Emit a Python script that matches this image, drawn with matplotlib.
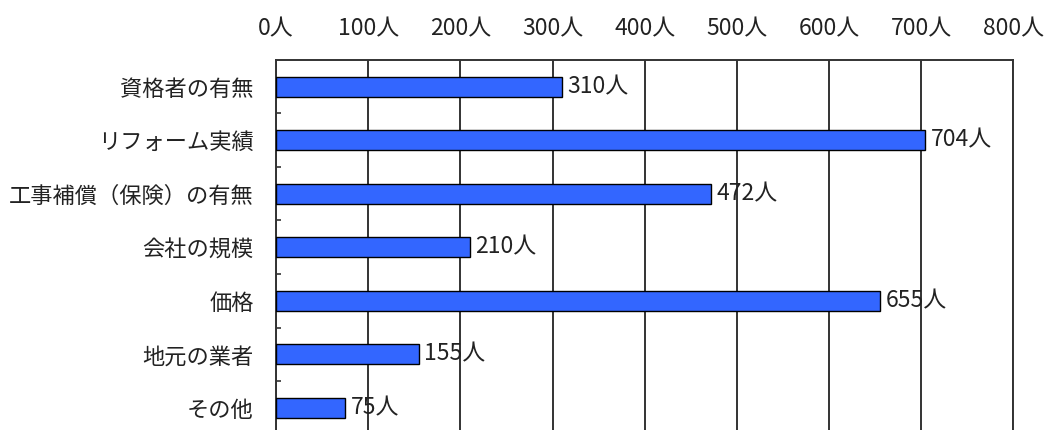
import numpy as np
import matplotlib.pyplot as plt

plt.rcParams["font.family"] = ["Noto Sans CJK JP", "DejaVu Sans"]

categories = ["資格者の有無", "リフォーム実績", "工事補償（保険）の有無", "会社の規模",
              "価格", "地元の業者", "その他"]
values = [310, 704, 472, 210, 655, 155, 75]
xticks = [0, 100, 200, 300, 400, 500, 600, 700, 800]

fig = plt.figure(figsize=(10.47, 4.30), dpi=100)
ax = fig.add_axes([0.2636, -0.0105, 0.7044, 0.871])

ys = np.arange(len(categories))
ax.barh(ys, values, height=0.37, color="#3366FF", edgecolor="black",
        linewidth=1.0, zorder=3)

for y, v in zip(ys, values):
    ax.text(v + 6, y, f"{v}人", va="center", ha="left", fontsize=16.5,
            color="#222222", zorder=4)

ax.set_xlim(0, 800)
ax.set_ylim(len(categories) - 0.5, -0.5)
ax.set_xticks(xticks)
ax.set_xticklabels([f"{t}人" for t in xticks])
ax.xaxis.tick_top()
ax.tick_params(axis="x", length=0, pad=14, labelsize=16.5, colors="#222222")
ax.set_yticks(ys)
ax.set_yticklabels(categories)
ax.tick_params(axis="y", which="major", length=0, pad=16, labelsize=16,
               colors="#222222")
ax.set_yticks(ys[:-1] + 0.5, minor=True)
ax.tick_params(axis="y", which="minor", direction="in", length=3.5,
               width=1.2, color="#333333")

ax.grid(axis="x", color="#333333", linewidth=1.4, zorder=0)
for s in ax.spines.values():
    s.set_color("#333333")
    s.set_linewidth(1.4)

fig.savefig("out.png", dpi=100)
